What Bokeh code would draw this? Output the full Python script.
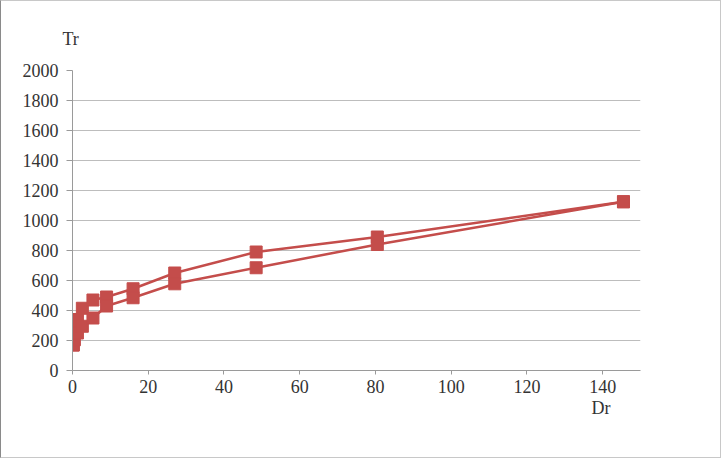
from bokeh.plotting import figure
from bokeh.models import FixedTicker, Range1d, Title, ColumnDataSource
from bokeh.embed import file_html
from bokeh.resources import INLINE

# Data
dr_values = [0.2, 0.5, 1.3, 2.6, 5.4, 9.0, 16.0, 27.0, 48.5, 80.5, 145.5]
tr_upper = [170, 270, 340, 415, 470, 490, 545, 650, 790, 890, 1125]
tr_lower = [170, 205, 250, 295, 350, 430, 485, 578, 685, 840, 1125]
x_ticks = [0, 20, 40, 60, 80, 100, 120, 140]
y_ticks = [0, 200, 400, 600, 800, 1000, 1200, 1400, 1600, 1800, 2000]
x_title = "Dr"
y_title = "Tr"

RED = "#C44D4B"
FONT = "Liberation Serif"
FS = "18px"

p = figure(frame_width=568, frame_height=300, output_backend="svg",
           toolbar_location=None, x_range=Range1d(0, 150), y_range=Range1d(0, 2000),
           min_border_left=71, min_border_right=80, min_border_top=69, min_border_bottom=87)
p.outline_line_color = None
p.border_fill_color = "white"
p.styles = {"border": "1px solid #C8C8C8", "border-left": "1px solid #8A8A8A"}

for ys in (tr_upper, tr_lower):
    src = ColumnDataSource(dict(x=dr_values, y=ys))
    p.line("x", "y", source=src, line_color=RED, line_width=2.5)
    p.scatter("x", "y", source=src, marker="square", size=12, fill_color=RED, line_color=RED)

p.xaxis.ticker = FixedTicker(ticks=x_ticks)
p.yaxis.ticker = FixedTicker(ticks=y_ticks)
p.xgrid.visible = False
p.ygrid.grid_line_color = "#BDBDBD"
p.ygrid.grid_line_width = 1

for ax in (p.xaxis[0], p.yaxis[0]):
    ax.axis_line_color = "#9A9A9A"
    ax.major_tick_line_color = "#9A9A9A"
    ax.minor_tick_line_color = None
    ax.major_label_text_font = FONT
    ax.major_label_text_font_size = FS
    ax.major_label_text_color = "#333333"
p.yaxis.major_tick_out = 6
p.yaxis.major_tick_in = 0
p.yaxis.major_label_standoff = 8
p.xaxis.major_tick_out = 4
p.xaxis.major_tick_in = 0
p.xaxis.major_label_standoff = 5

p.add_layout(Title(text=y_title, align="left", offset=-10, standoff=43, text_font=FONT,
                   text_font_size=FS, text_font_style="normal", text_color="#333333"), "above")
p.add_layout(Title(text=x_title, align="right", offset=30, standoff=0, text_font=FONT,
                   text_font_size=FS, text_font_style="normal", text_color="#333333"), "below")

open("out.html", "w").write(file_html(p, INLINE))
